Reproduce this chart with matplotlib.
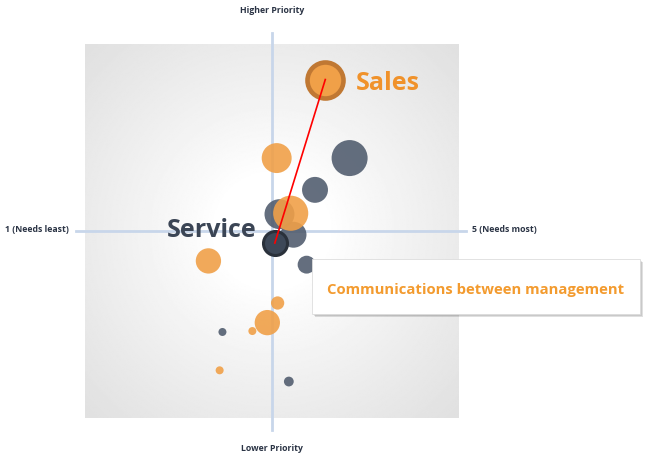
import numpy as np
import matplotlib
matplotlib.use("Agg")
import matplotlib.pyplot as plt
from matplotlib.patches import Rectangle

plt.rcParams['font.family'] = ['Open Sans', 'DejaVu Sans']

# need score (1 = needs least, 5 = needs most), priority (1 = lower, 5 = higher), mentions
sales_need = [3.57, 3.05, 3.20, 2.32, 3.06, 2.95, 2.79, 2.44]
sales_priority = [4.62, 3.78, 3.19, 2.68, 2.23, 2.02, 1.93, 1.51]
sales_mentions = [81, 56, 77, 40, 11, 40, 4, 4]

service_need = [3.83, 3.46, 3.08, 3.23, 3.03, 3.37, 2.47, 3.18]
service_priority = [3.78, 3.44, 3.18, 2.96, 2.87, 2.64, 1.92, 1.39]
service_mentions = [81, 42, 56, 42, 36, 20, 4, 6]

highlight_sales = 0    # index of the selected "Sales" bubble
highlight_service = 4  # index of the selected "Service" bubble
tooltip = "Communications between management"

orange = '#f0a048'
dark = '#4e5a6c'
scale = 8.3  # mentions -> marker area

fig = plt.figure(figsize=(6.5, 4.6), dpi=100)
ax = fig.add_axes([85 / 650, 41 / 460, 374 / 650, 374 / 460])
ax.set_xlim(1, 5)
ax.set_ylim(1, 5)
ax.axis('off')

# radial grey background
g = np.linspace(-1, 1, 300)
xx, yy = np.meshgrid(g, g)
r = np.sqrt(xx ** 2 + yy ** 2)
shade = 1 - 0.12 * np.clip((r - 0.3) / 1.1, 0, 1) ** 0.9
ax.imshow(shade, extent=[1, 5, 1, 5], cmap='gray', vmin=0, vmax=1,
          aspect='auto', zorder=0, interpolation='bilinear')

# quadrant lines
ax.plot([3, 3], [0.87, 5.12], color='#c8d6ea', lw=2, clip_on=False, zorder=1)
ax.plot([0.9, 5.08], [3, 3], color='#c8d6ea', lw=2, clip_on=False, zorder=1)

lab = dict(fontsize=6.3, fontweight='bold', color='#2b3445', va='center')
ax.text(3, 5.37, 'Higher Priority', ha='center', **lab)
ax.text(3, 0.68, 'Lower Priority', ha='center', **lab)
ax.text(0.83, 3.03, '1 (Needs least)', ha='right', **lab)
ax.text(5.14, 3.03, '5 (Needs most)', ha='left', **lab)

sn = np.array(service_need)
sp = np.array(service_priority)
sm = np.array(service_mentions)
on = np.array(sales_need)
op = np.array(sales_priority)
om = np.array(sales_mentions)

ax.scatter(sn, sp, s=sm * scale, color=dark, alpha=0.88, lw=0, zorder=2)
ax.scatter(on, op, s=om * scale, color=orange, alpha=0.9, lw=0, zorder=3)

# highlighted bubbles
i, j = highlight_sales, highlight_service
ax.scatter(on[i], op[i], s=om[i] * scale, color=orange, edgecolor='#c07833',
           lw=3.3, zorder=5)
ax.scatter(sn[j], sp[j], s=sm[j] * scale, color='#3d4858', edgecolor='#2a313b',
           lw=2.2, zorder=5)
ax.plot([on[i], sn[j]], [op[i], sp[j]], color='red', lw=1.2, zorder=6)

ax.text(on[i] + 0.33, op[i] - 0.03, 'Sales', fontsize=18, fontweight='bold',
        color='#f0922b', ha='left', va='center', zorder=7)
ax.text(sn[j] - 0.2, sp[j] + 0.15, 'Service', fontsize=18, fontweight='bold',
        color='#3b4555', ha='right', va='center', zorder=7)

# tooltip box with shadow
x0, y0, w, h = 312 / 650, 145 / 460, 328 / 650, 55 / 460
for k, a in enumerate([0.10, 0.10, 0.12]):
    off = (k + 1) / 650
    fig.patches.append(Rectangle((x0 + off, y0 - off * 650 / 460), w, h,
                                 transform=fig.transFigure, color='black',
                                 alpha=a, lw=0, zorder=8))
fig.patches.append(Rectangle((x0, y0), w, h, transform=fig.transFigure,
                             facecolor='white', edgecolor='#dddddd', lw=0.6,
                             zorder=9))
fig.text(x0 + w / 2, y0 + h / 2 - 0.006, tooltip, fontsize=10.7,
         fontweight='bold', color='#f39b2f', ha='center', va='center',
         zorder=10)

fig.savefig('out.png', dpi=100)
